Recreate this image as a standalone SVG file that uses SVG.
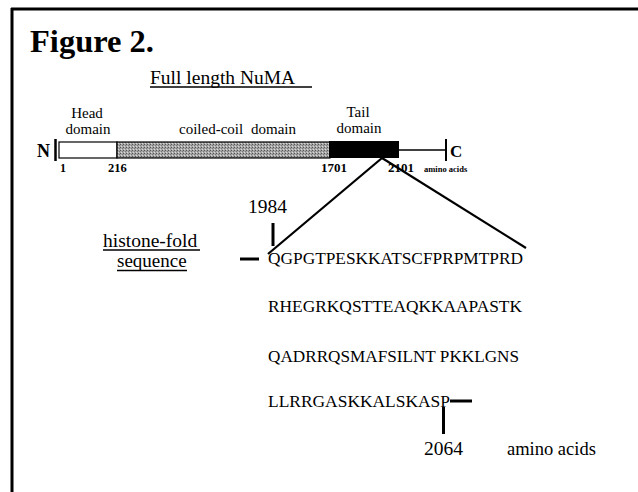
<svg xmlns="http://www.w3.org/2000/svg" width="638" height="492" viewBox="0 0 638 492">
<style>
.t{font-family:"Liberation Serif","Times New Roman",serif;fill:#000}
.b{font-weight:bold}
.ln{stroke:#000;fill:none}
</style>
<defs>
<pattern id="stip" width="3" height="3" patternUnits="userSpaceOnUse">
<rect width="3" height="3" fill="#a6a6a6"/>
<rect x="0" y="0" width="1" height="1" fill="#555"/>
<rect x="2" y="1" width="1" height="1" fill="#777"/>
<rect x="1" y="2" width="1" height="1" fill="#d8d8d8"/>
</pattern>
</defs>
<rect width="638" height="492" fill="#fff"/>
<g id="frame">
<line class="ln" x1="11" y1="9" x2="638" y2="9" stroke-width="3"/>
<line class="ln" x1="12" y1="8" x2="12" y2="492" stroke-width="3"/>
</g>
<g id="title">
<text class="t b" x="30" y="52" font-size="32.5">Figure 2.</text>
</g>
<g id="full-length">
<text class="t" x="150" y="84" font-size="19.5">Full length NuMA</text>
<line class="ln" x1="150" y1="87" x2="312" y2="87" stroke-width="1.3"/>
</g>
<g id="labels-domains">
<text class="t" x="87" y="118" font-size="15" text-anchor="middle">Head</text>
<text class="t" x="88" y="134" font-size="15" text-anchor="middle">domain</text>
<text class="t" x="179" y="134" font-size="15">coiled-coil</text>
<text class="t" x="251" y="134" font-size="15">domain</text>
<text class="t" x="358" y="117" font-size="15" text-anchor="middle">Tail</text>
<text class="t" x="359" y="133" font-size="15" text-anchor="middle">domain</text>
</g>
<g id="bar">
<text class="t b" x="37" y="157" font-size="18">N</text>
<line class="ln" x1="55.5" y1="139" x2="55.5" y2="161" stroke-width="2.5"/>
<rect id="head" x="59" y="142" width="58" height="16" fill="#fff" stroke="#000" stroke-width="1.2"/>
<rect id="coil" x="117" y="142" width="213" height="16" fill="url(#stip)" stroke="#000" stroke-width="1.2"/>
<rect id="tail" x="329" y="141" width="70" height="17" fill="#000"/>
<line class="ln" x1="399" y1="150" x2="446" y2="150" stroke-width="1.5"/>
<line class="ln" x1="446" y1="139" x2="446" y2="161" stroke-width="2"/>
<text class="t b" x="450" y="157" font-size="17">C</text>
</g>
<g id="numbers">
<text class="t b" x="60" y="172" font-size="12">1</text>
<text class="t b" x="108" y="172" font-size="12.5">216</text>
<text class="t b" x="321" y="172" font-size="13">1701</text>
<text class="t b" x="388" y="172" font-size="13">2101</text>
<text class="t b" x="424" y="172" font-size="8.5">amino acids</text>
</g>
<g id="connectors">
<line class="ln" x1="382" y1="158" x2="268" y2="254" stroke-width="2.2"/>
<line class="ln" x1="382" y1="158" x2="526" y2="248" stroke-width="2.2"/>
</g>
<g id="histone">
<text class="t" x="103" y="247" font-size="19.5">histone-fold</text>
<line class="ln" x1="103" y1="250" x2="200" y2="250" stroke-width="1.3"/>
<text class="t" x="117" y="267" font-size="19">sequence</text>
<line class="ln" x1="117" y1="270.5" x2="187" y2="270.5" stroke-width="1.3"/>
</g>
<g id="sequence">
<text class="t" x="248" y="213" font-size="19.5">1984</text>
<line class="ln" x1="273" y1="223" x2="273" y2="246" stroke-width="3"/>
<line class="ln" x1="240" y1="259" x2="259" y2="259" stroke-width="3"/>
<text class="t" x="268" y="264" font-size="17" textLength="255" lengthAdjust="spacingAndGlyphs">QGPGTPESKKATSCFPRPMTPRD</text>
<text class="t" x="268" y="312" font-size="17" textLength="254" lengthAdjust="spacingAndGlyphs">RHEGRKQSTTEAQKKAAPASTK</text>
<text class="t" x="268" y="362" font-size="17" textLength="251" lengthAdjust="spacingAndGlyphs">QADRRQSMAFSILNT PKKLGNS</text>
<text class="t" x="268" y="407" font-size="17" textLength="182" lengthAdjust="spacingAndGlyphs">LLRRGASKKALSKASP</text>
<line class="ln" x1="450" y1="401" x2="472" y2="401" stroke-width="3"/>
<line class="ln" x1="443.5" y1="407" x2="443.5" y2="434" stroke-width="3"/>
<text class="t" x="424" y="455" font-size="19.5">2064</text>
<text class="t" x="507" y="455" font-size="18.5">amino acids</text>
</g>
</svg>
